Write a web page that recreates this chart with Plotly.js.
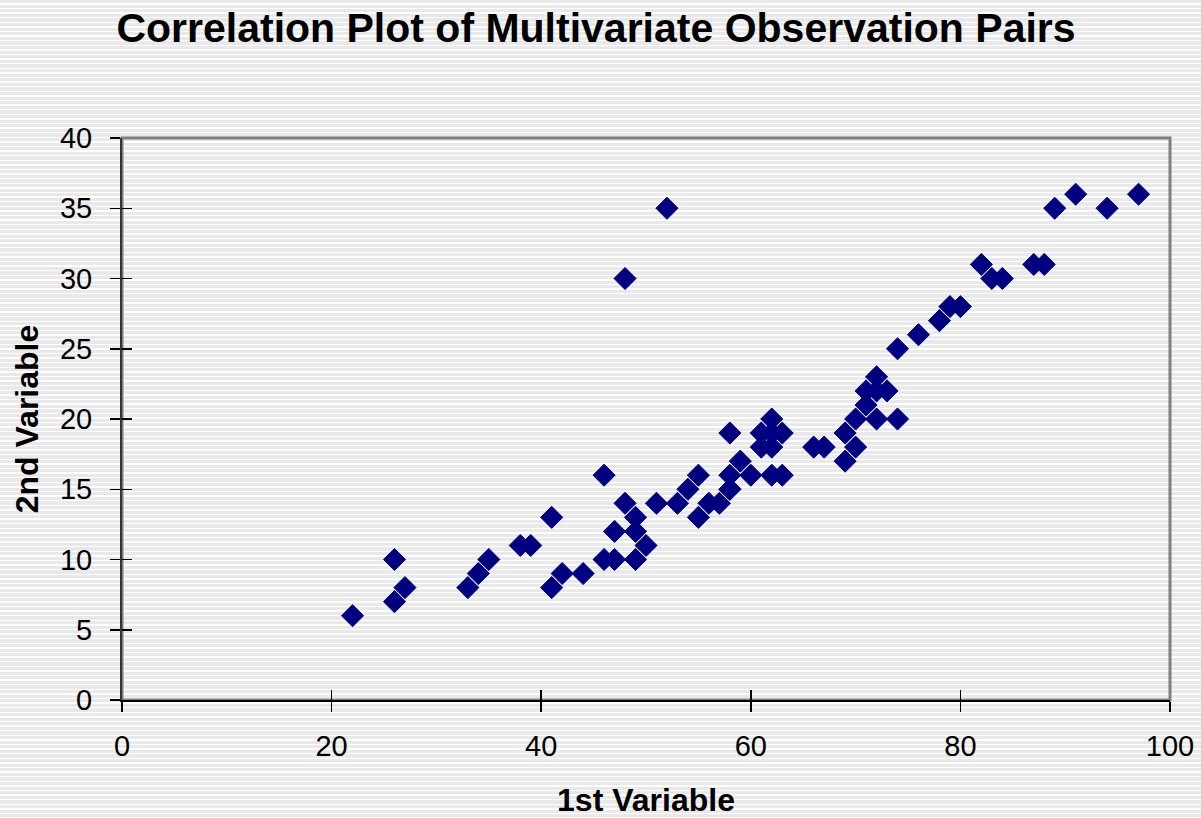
<!DOCTYPE html>
<html>
<head>
<meta charset="utf-8">
<script src="https://cdn.plot.ly/plotly-3.0.1.min.js"></script>
<style>
  html, body { margin: 0; padding: 0; }
  body {
    width: 1201px; height: 818px; overflow: hidden;
    background: repeating-linear-gradient(to bottom, #e9e9e9 0px, #e9e9e9 3.2px, #ffffff 3.2px, #ffffff 4.6px);
  }
  #chart { width: 1201px; height: 818px; }
</style>
</head>
<body>
<div id="chart"></div>
<script>
const firstVariable = [22, 26, 26, 27, 33, 34, 35, 38, 39, 41, 41, 42, 44, 46, 46, 47, 47, 48, 48, 49, 49, 49, 50, 51, 52, 53, 54, 55, 55, 56, 57, 58, 58, 58, 58, 59, 60, 61, 61, 62, 62, 62, 62, 63, 63, 66, 67, 69, 69, 70, 70, 71, 71, 72, 72, 72, 73, 74, 74, 76, 78, 79, 80, 82, 83, 84, 87, 88, 89, 91, 94, 97];
const secondVariable = [6, 10, 7, 8, 8, 9, 10, 11, 11, 13, 8, 9, 9, 16, 10, 10, 12, 14, 30, 13, 12, 10, 11, 14, 35, 14, 15, 16, 13, 14, 14, 15, 19, 16, 15, 17, 16, 19, 18, 20, 19, 18, 16, 19, 16, 18, 18, 19, 17, 20, 18, 21, 22, 23, 22, 20, 22, 20, 25, 26, 27, 28, 28, 31, 30, 30, 31, 31, 35, 36, 35, 36];
const xTickValues = [0, 20, 40, 60, 80, 100];
const yTickValues = [0, 5, 10, 15, 20, 25, 30, 35, 40];

const traces = [
  {
    type: 'scatter', mode: 'markers',
    x: firstVariable, y: secondVariable,
    marker: { symbol: 'diamond', size: 17, color: '#000080', line: { color: '#000080', width: 1 } },
    hoverinfo: 'x+y', showlegend: false
  },
  {
    type: 'scatter', mode: 'markers', x: [], y: [],
    xaxis: 'x2', yaxis: 'y2', showlegend: false, hoverinfo: 'skip'
  }
];

const tickFont = { family: 'Liberation Sans, Arial, sans-serif', size: 29, color: '#000000' };
const titleFont = { family: 'Liberation Sans, Arial, sans-serif', size: 32, color: '#000000', weight: 'bold' };

const layout = {
  width: 1201, height: 818,
  margin: { l: 122, r: 31, t: 138, b: 118 },
  paper_bgcolor: 'rgba(0,0,0,0)',
  plot_bgcolor: 'rgba(0,0,0,0)',
  title: {
    text: '<b>Correlation Plot of Multivariate Observation Pairs</b>',
    font: { family: 'Liberation Sans, Arial, sans-serif', size: 41, color: '#000000' },
    xref: 'container', x: 596 / 1201, xanchor: 'center',
    yref: 'container', y: 1 - 28 / 818, yanchor: 'middle'
  },
  xaxis: {
    range: [0, 100], tickvals: xTickValues, ticktext: xTickValues.map(String),
    showgrid: false, zeroline: false,
    showline: true, linecolor: '#000000', linewidth: 2,
    ticks: 'outside', ticklen: 10, tickwidth: 1.5, tickcolor: '#000000',
    ticklabelstandoff: 9,
    tickfont: tickFont,
    title: { text: '<b>1st Variable</b>', font: titleFont, standoff: 35 },
    fixedrange: true
  },
  yaxis: {
    range: [0, 40], tickvals: yTickValues, ticktext: yTickValues.map(String),
    showgrid: false, zeroline: false,
    showline: true, linecolor: '#333333', linewidth: 2,
    ticks: 'outside', ticklen: 10, tickwidth: 1.5, tickcolor: '#000000',
    ticklabelstandoff: 12,
    tickfont: tickFont,
    title: { text: '<b>2nd Variable</b>', font: titleFont, standoff: 12 },
    fixedrange: true
  },
  xaxis2: {
    overlaying: 'x', anchor: 'y2', range: [0, 100], tickvals: xTickValues,
    showticklabels: false, showgrid: false, zeroline: false, showline: false,
    ticks: 'inside', ticklen: 10, tickwidth: 1.5, tickcolor: '#000000', fixedrange: true
  },
  yaxis2: {
    overlaying: 'y', anchor: 'x2', range: [0, 40], tickvals: yTickValues,
    showticklabels: false, showgrid: false, zeroline: false, showline: false,
    ticks: 'inside', ticklen: 10, tickwidth: 1.5, tickcolor: '#000000', fixedrange: true
  },
  shapes: [
    {
      type: 'rect', xref: 'paper', yref: 'paper', x0: 0, x1: 1, y0: 0, y1: 1,
      line: { color: '#808080', width: 3 }, layer: 'below'
    }
  ]
};

Plotly.newPlot('chart', traces, layout, { displayModeBar: false, staticPlot: true });
</script>
</body>
</html>
